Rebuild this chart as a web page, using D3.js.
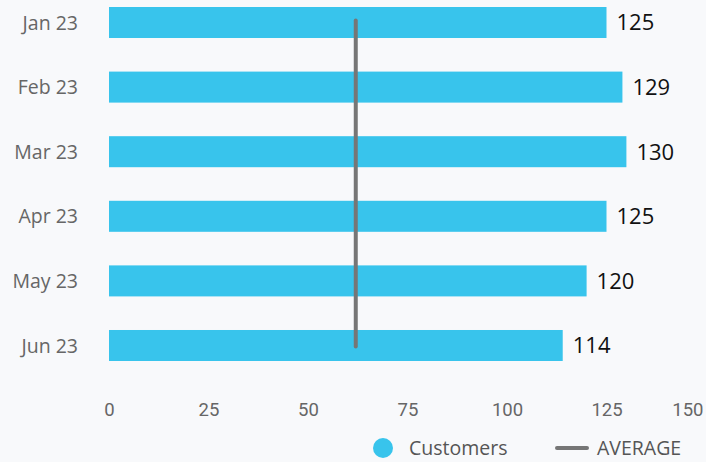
<!DOCTYPE html>
<html>
<head>
<meta charset="utf-8">
<script src="https://cdn.jsdelivr.net/npm/d3@7"></script>
<style>
  body { margin: 0; background: #f8f9fb; }
  svg { display: block; }
</style>
</head>
<body>
<script>
var months = ["Jan 23", "Feb 23", "Mar 23", "Apr 23", "May 23", "Jun 23"];
var customers = [125, 129, 130, 125, 120, 114];
var average = 62;
var xTicks = [0, 25, 50, 75, 100, 125, 150];

var width = 706, height = 462;

var svg = d3.select("body").append("svg")
    .attr("width", width).attr("height", height);
svg.append("rect").attr("width", width).attr("height", height).attr("fill", "#f8f9fb");

var x = d3.scaleLinear().domain([0, 150]).range([109, 706]);
var y = d3.scaleBand().domain(months).range([7, 361]).paddingInner(0.52).paddingOuter(0);

// bars
svg.selectAll("rect.bar").data(customers).enter().append("rect")
    .attr("class", "bar")
    .attr("x", x(0))
    .attr("y", function (d, i) { return y(months[i]); })
    .attr("width", function (d) { return x(d) - x(0); })
    .attr("height", y.bandwidth())
    .attr("fill", "#38c4ec");

// value labels
svg.selectAll("text.val").data(customers).enter().append("text")
    .attr("class", "val")
    .attr("x", function (d) { return x(d) + 10; })
    .attr("y", function (d, i) { return y(months[i]) + y.bandwidth() / 2; })
    .attr("dy", "0.36em")
    .attr("font-family", "Open Sans")
    .attr("font-size", 22)
    .attr("fill", "#111")
    .text(function (d) { return d; });

// y labels
svg.selectAll("text.cat").data(months).enter().append("text")
    .attr("class", "cat")
    .attr("x", 78)
    .attr("y", function (d) { return y(d) + y.bandwidth() / 2; })
    .attr("dy", "0.36em")
    .attr("text-anchor", "end")
    .attr("font-family", "Open Sans")
    .attr("font-size", 19.5)
    .attr("fill", "#666")
    .text(function (d) { return d; });

// x axis
var xAxis = d3.axisBottom(x).tickValues(xTicks).tickSize(0).tickPadding(0);
var gx = svg.append("g").attr("transform", "translate(0,416)").call(xAxis);
gx.select(".domain").remove();
gx.selectAll("text")
    .attr("font-family", "Roboto")
    .attr("font-size", 18.5)
    .attr("fill", "#666")
    .attr("y", 0)
    .attr("dy", 0);
gx.selectAll(".tick").filter(function (d) { return d === 150; })
    .select("text").attr("text-anchor", "end").attr("x", -3);

// average line
svg.append("line")
    .attr("x1", x(average)).attr("x2", x(average))
    .attr("y1", y(months[0]) + y.bandwidth() / 2 - 2)
    .attr("y2", y(months[months.length - 1]) + y.bandwidth() / 2 + 1)
    .attr("stroke", "#767676")
    .attr("stroke-width", 4)
    .attr("stroke-linecap", "round");

// legend
var lg = svg.append("g").attr("transform", "translate(0,448)");
lg.append("circle").attr("cx", 383).attr("cy", 0).attr("r", 10).attr("fill", "#38c4ec");
lg.append("text").attr("x", 409).attr("y", 0).attr("dy", "0.36em")
    .attr("font-family", "Open Sans").attr("font-size", 19.5).attr("fill", "#555")
    .text("Customers");
lg.append("line").attr("x1", 557).attr("x2", 587).attr("y1", 0).attr("y2", 0)
    .attr("stroke", "#767676").attr("stroke-width", 4).attr("stroke-linecap", "round");
lg.append("text").attr("x", 597).attr("y", 0).attr("dy", "0.36em")
    .attr("font-family", "Open Sans").attr("font-size", 19.5).attr("fill", "#555")
    .text("AVERAGE");
</script>
</body>
</html>
